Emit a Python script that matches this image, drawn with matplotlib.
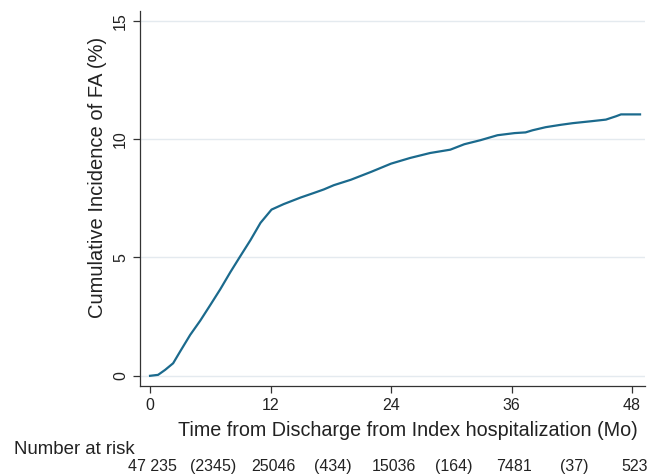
import matplotlib
matplotlib.use("Agg")
import matplotlib.pyplot as plt
import matplotlib.transforms as mtransforms

plt.rcParams['font.family'] = ['Liberation Sans', 'DejaVu Sans']

# cumulative incidence curve (months, %)
months = [0, 0.8, 1.5, 2.3, 3.0, 4.0, 5.0, 6.0, 7.0, 8.0, 9.0, 10.0, 11.0, 12.1,
          13.3, 15.0, 16.3, 17.3, 18.3, 20.0, 22.0, 24.0, 25.9, 27.9, 29.9, 31.3,
          32.9, 34.6, 36.3, 37.4, 38.1, 39.4, 40.9, 42.1, 43.9, 45.4, 46.4, 46.9, 48.8]
cif = [0, 0.04, 0.25, 0.53, 1.03, 1.73, 2.33, 2.99, 3.66, 4.38, 5.06, 5.73, 6.46, 7.02,
       7.25, 7.53, 7.72, 7.87, 8.05, 8.28, 8.61, 8.96, 9.2, 9.41, 9.55, 9.78,
       9.95, 10.16, 10.25, 10.28, 10.37, 10.5, 10.6, 10.67, 10.75, 10.82, 10.96, 11.04, 11.04]

xticks = [0, 12, 24, 36, 48]
yticks = [0, 5, 10, 15]

# number at risk (events in brackets between the ticks)
risk_pos = [0, 6, 12, 18, 24, 30, 36, 42, 48]
risk_txt = ["47 235", "(2345)", "25046", "(434)", "15036", "(164)", "7481", "(37)", "523"]

fig = plt.figure(figsize=(6.47, 4.75), dpi=100)
ax = fig.add_axes([0.2164, 0.1874, 0.7806, 0.7896])

ax.plot(months, cif, color='#1b6a8d', lw=1.6, solid_joinstyle='round')

ax.set_xlim(-1.0, 49.3)
ax.set_ylim(-0.43, 15.41)
ax.set_xticks(xticks)
ax.set_yticks(yticks)
ax.grid(axis='y', color='#e4eaef', lw=1.0)
ax.set_axisbelow(True)
for s in ['top', 'right']:
    ax.spines[s].set_visible(False)
for s in ['left', 'bottom']:
    ax.spines[s].set_color('#333333')
    ax.spines[s].set_linewidth(0.9)
ax.tick_params(direction='out', length=5, width=0.9, color='#333333',
               labelsize=11.5, labelcolor='#222222')
for lab in ax.get_yticklabels():
    lab.set_rotation(90)
    lab.set_va('center')

fig.text(97.5 / 647, 1 - 177.5 / 475, "Cumulative Incidence of FA (%)", rotation=90,
         ha='center', va='center', fontsize=14.5, color='#222222')
fig.text(407.5 / 647, 1 - 431 / 475, "Time from Discharge from Index hospitalization (Mo)",
         ha='center', va='center', fontsize=14.2, color='#222222')

fig.text(14 / 647, 1 - 449 / 475, "Number at risk", ha='left', va='center',
         fontsize=13.4, color='#222222')
row = mtransforms.blended_transform_factory(ax.transData, fig.transFigure)
row = row + mtransforms.ScaledTranslation(2.5 / 100, 0, fig.dpi_scale_trans)
for p, t in zip(risk_pos, risk_txt):
    fig.text(p, 1 - 466.7 / 475, t, transform=row, ha='center', va='center',
             fontsize=11.5, color='#222222')

fig.savefig("out.png", dpi=100)
